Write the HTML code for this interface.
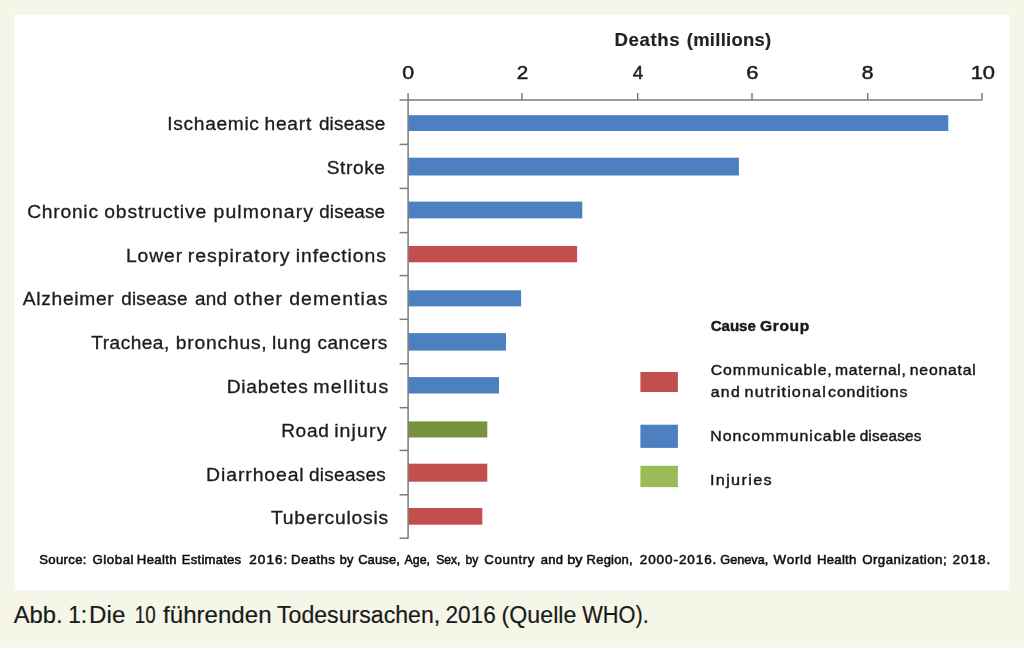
<!DOCTYPE html>
<html><head><meta charset="utf-8"><title>Abb. 1</title>
<style>
html,body{margin:0;padding:0;background:#fff;}
body{width:1024px;height:672px;overflow:hidden;font-family:"Liberation Sans",sans-serif;}
svg{display:block;}
text{font-family:"Liberation Sans",sans-serif;fill:#222;}
.lab{font-size:18.7px;fill:#1c1c1c;stroke:#1c1c1c;stroke-width:.32px;}
.tick{font-size:19.0px;fill:#1c1c1c;stroke:#1c1c1c;stroke-width:.5px;}
.ttl{font-size:18.2px;stroke:#222;}
.b{font-weight:bold;stroke-width:.15px;}
.src{font-size:12.9px;fill:#111;stroke:#111;stroke-width:.55px;}
.leg{font-size:15.2px;fill:#1a1a1a;stroke:#1a1a1a;stroke-width:.45px;}
.cap{font-size:23.2px;fill:#1a1a1a;stroke:#1a1a1a;stroke-width:.2px;}
</style></head><body>
<svg width="1024" height="672" viewBox="0 0 1024 672">
<defs><filter id="soft" x="0" y="0" width="1024" height="600" filterUnits="userSpaceOnUse"><feGaussianBlur stdDeviation="0.6"/></filter></defs>
<rect x="0" y="0" width="1024" height="647.5" fill="#f5f6e8"/>
<rect x="14.5" y="14.5" width="995" height="575.5" fill="#ffffff"/>
<g filter="url(#soft)">
<rect x="408.10" y="115.20" width="540.20" height="15.80" fill="#4d80c0"/>
<text id="t0" class="lab" transform="translate(167.37 130.40) scale(1.0255 1)" textLength="89.27" lengthAdjust="spacing">Ischaemic</text>
<text id="t1" class="lab" transform="translate(264.47 130.40) scale(1.0283 1)" textLength="45.49" lengthAdjust="spacing">heart</text>
<text id="t2" class="lab" transform="translate(318.89 130.40) scale(1.0084 1)" textLength="65.72" lengthAdjust="spacing">disease</text>
<rect x="408.10" y="157.70" width="330.80" height="17.80" fill="#4d80c0"/>
<text id="t3" class="lab" transform="translate(326.73 174.00) scale(1.0229 1)" textLength="56.98" lengthAdjust="spacing">Stroke</text>
<rect x="408.10" y="201.60" width="174.20" height="16.80" fill="#4d80c0"/>
<text id="t4" class="lab" transform="translate(27.23 218.00) scale(1.0285 1)" textLength="68.81" lengthAdjust="spacing">Chronic</text>
<text id="t5" class="lab" transform="translate(104.24 218.00) scale(1.0369 1)" textLength="98.39" lengthAdjust="spacing">obstructive</text>
<text id="t6" class="lab" transform="translate(213.49 218.00) scale(1.04 1)" textLength="95.68" lengthAdjust="spacing">pulmonary</text>
<text id="t7" class="lab" transform="translate(319.23 218.00) scale(1.0062 1)" textLength="65.38" lengthAdjust="spacing">disease</text>
<rect x="408.10" y="246.00" width="169.00" height="16.30" fill="#c3504e"/>
<text id="t8" class="lab" transform="translate(125.92 262.00) scale(1.0304 1)" textLength="54.63" lengthAdjust="spacing">Lower</text>
<text id="t9" class="lab" transform="translate(187.74 262.00) scale(1.0434 1)" textLength="97.53" lengthAdjust="spacing">respiratory</text>
<text id="t10" class="lab" transform="translate(295.73 262.00) scale(1.0409 1)" textLength="86.74" lengthAdjust="spacing">infections</text>
<rect x="408.10" y="290.30" width="113.00" height="16.10" fill="#4d80c0"/>
<text id="t11" class="lab" transform="translate(22.75 305.30) scale(1.0275 1)" textLength="88.56" lengthAdjust="spacing">Alzheimer</text>
<text id="t12" class="lab" transform="translate(121.23 305.30) scale(1.0084 1)" textLength="65.73" lengthAdjust="spacing">disease</text>
<text id="t13" class="lab" transform="translate(195.01 305.30) scale(1.0086 1)" textLength="31.83" lengthAdjust="spacing">and</text>
<text id="t14" class="lab" transform="translate(233.73 305.30) scale(1.038 1)" textLength="46.50" lengthAdjust="spacing">other</text>
<text id="t15" class="lab" transform="translate(289.24 305.30) scale(1.0398 1)" textLength="94.51" lengthAdjust="spacing">dementias</text>
<rect x="408.10" y="333.10" width="97.90" height="17.50" fill="#4d80c0"/>
<text id="t16" class="lab" transform="translate(91.24 349.40) scale(1.0198 1)" textLength="76.53" lengthAdjust="spacing">Trachea,</text>
<text id="t17" class="lab" transform="translate(175.67 349.40) scale(1.0315 1)" textLength="88.29" lengthAdjust="spacing">bronchus,</text>
<text id="t18" class="lab" transform="translate(271.94 349.40) scale(1.0308 1)" textLength="37.95" lengthAdjust="spacing">lung</text>
<text id="t19" class="lab" transform="translate(317.39 349.40) scale(1.0203 1)" textLength="68.62" lengthAdjust="spacing">cancers</text>
<rect x="408.10" y="377.10" width="90.90" height="16.40" fill="#4d80c0"/>
<text id="t20" class="lab" transform="translate(226.72 392.90) scale(1.0285 1)" textLength="78.80" lengthAdjust="spacing">Diabetes</text>
<text id="t21" class="lab" transform="translate(313.22 392.90) scale(1.0519 1)" textLength="71.34" lengthAdjust="spacing">mellitus</text>
<rect x="408.10" y="421.40" width="79.20" height="16.10" fill="#77933c"/>
<text id="t22" class="lab" transform="translate(281.17 437.30) scale(1.0192 1)" textLength="46.74" lengthAdjust="spacing">Road</text>
<text id="t23" class="lab" transform="translate(334.18 437.30) scale(1.0481 1)" textLength="49.87" lengthAdjust="spacing">injury</text>
<rect x="408.10" y="463.70" width="79.20" height="18.00" fill="#c3504e"/>
<text id="t24" class="lab" transform="translate(206.12 480.60) scale(1.0376 1)" textLength="94.03" lengthAdjust="spacing">Diarrhoeal</text>
<text id="t25" class="lab" transform="translate(309.04 480.60) scale(1.0119 1)" textLength="75.86" lengthAdjust="spacing">diseases</text>
<rect x="408.10" y="508.00" width="74.20" height="16.70" fill="#c3504e"/>
<text id="t26" class="lab" transform="translate(271.00 524.20) scale(1.0327 1)" textLength="113.54" lengthAdjust="spacing">Tuberculosis</text>
<g stroke="#7c7c7c" stroke-width="1.5" fill="none">
<path d="M399.60 100.0H982.20"/>
<path d="M408.10 100.0V538.80"/>
<path d="M408.10 93.0V100.0"/>
<path d="M522.00 93.0V100.0"/>
<path d="M637.70 93.0V100.0"/>
<path d="M752.00 93.0V100.0"/>
<path d="M867.70 93.0V100.0"/>
<path d="M981.90 93.0V100.0"/>
<path d="M399.60 144.40H408.10"/>
<path d="M399.60 188.40H408.10"/>
<path d="M399.60 232.60H408.10"/>
<path d="M399.60 275.60H408.10"/>
<path d="M399.60 319.30H408.10"/>
<path d="M399.60 363.80H408.10"/>
<path d="M399.60 407.70H408.10"/>
<path d="M399.60 450.40H408.10"/>
<path d="M399.60 494.80H408.10"/>
<path d="M399.60 538.20H408.10"/>
</g>
<text id="t27" class="tick" transform="translate(402.14 78.80) scale(1.1247 1)">0</text>
<text id="t28" class="tick" transform="translate(516.73 78.80) scale(1.0858 1)">2</text>
<text id="t29" class="tick" transform="translate(632.84 78.80) scale(0.9961 1)">4</text>
<text id="t30" class="tick" transform="translate(746.14 78.80) scale(1.1551 1)">6</text>
<text id="t31" class="tick" transform="translate(861.75 78.80) scale(1.105 1)">8</text>
<text id="t32" class="tick" transform="translate(970.64 78.80) scale(1.1544 1)">10</text>
<text id="t33" class="ttl b" transform="translate(614.46 46.30) scale(1.0211 1)" textLength="63.71" lengthAdjust="spacing">Deaths</text>
<text id="t34" class="ttl b" transform="translate(686.74 46.30) scale(1.0133 1)" textLength="83.42" lengthAdjust="spacing">(millions)</text>
<text id="t35" class="leg b" transform="translate(710.65 330.60) scale(0.9921 1)">Cause</text>
<text id="t36" class="leg b" transform="translate(759.95 330.60) scale(1.0235 1)" textLength="48.13" lengthAdjust="spacing">Group</text>
<text id="t37" class="leg" transform="translate(710.74 375.00) scale(1.0418 1)" textLength="116.17" lengthAdjust="spacing">Communicable,</text>
<text id="t38" class="leg" transform="translate(835.03 375.00) scale(1.0339 1)" textLength="68.48" lengthAdjust="spacing">maternal,</text>
<text id="t39" class="leg" transform="translate(909.82 375.00) scale(1.038 1)" textLength="63.63" lengthAdjust="spacing">neonatal</text>
<text id="t40" class="leg" transform="translate(710.73 396.80) scale(1.0417 1)" textLength="27.90" lengthAdjust="spacing">and</text>
<text id="t41" class="leg" transform="translate(744.53 396.80) scale(1.0649 1)" textLength="76.33" lengthAdjust="spacing">nutritional</text>
<text id="t42" class="leg" transform="translate(828.10 396.80) scale(1.045 1)" textLength="75.84" lengthAdjust="spacing">conditions</text>
<text id="t43" class="leg" transform="translate(710.19 441.30) scale(1.045 1)" textLength="139.49" lengthAdjust="spacing">Noncommunicable</text>
<text id="t44" class="leg" transform="translate(859.65 441.30) scale(1.0088 1)" textLength="61.22" lengthAdjust="spacing">diseases</text>
<text id="t45" class="leg" transform="translate(709.92 485.30) scale(1.0721 1)" textLength="57.64" lengthAdjust="spacing">Injuries</text>
<rect x="640.4" y="372" width="37.5" height="20" fill="#c3504e"/>
<rect x="640.4" y="424.7" width="37.5" height="23.2" fill="#4d80c0"/>
<rect x="640.4" y="465.8" width="37.5" height="21.3" fill="#9bbb59"/>
<text id="t46" class="src" transform="translate(39.24 564.00) scale(1.0186 1)" textLength="46.42" lengthAdjust="spacing">Source:</text>
<text id="t47" class="src" transform="translate(92.48 564.00) scale(1.0291 1)" textLength="39.87" lengthAdjust="spacing">Global</text>
<text id="t48" class="src" transform="translate(136.81 564.00) scale(1.0198 1)" textLength="39.03" lengthAdjust="spacing">Health</text>
<text id="t49" class="src" transform="translate(181.83 564.00) scale(1.0137 1)" textLength="58.47" lengthAdjust="spacing">Estimates</text>
<text id="t50" class="src" transform="translate(249.28 564.00) scale(1.0506 1)" textLength="36.22" lengthAdjust="spacing">2016:</text>
<text id="t51" class="src" transform="translate(291.03 564.00) scale(1.0207 1)" textLength="42.88" lengthAdjust="spacing">Deaths</text>
<text id="t52" class="src" transform="translate(339.79 564.00) scale(0.991 1)">by</text>
<text id="t53" class="src" transform="translate(358.14 564.00) scale(1.0067 1)" textLength="41.51" lengthAdjust="spacing">Cause,</text>
<text id="t54" class="src" transform="translate(404.56 564.00) scale(0.9613 1)">Age,</text>
<text id="t55" class="src" transform="translate(436.14 564.00) scale(0.9417 1)">Sex,</text>
<text id="t56" class="src" transform="translate(465.59 564.00) scale(0.9368 1)">by</text>
<text id="t57" class="src" transform="translate(484.30 564.00) scale(1.0325 1)" textLength="48.67" lengthAdjust="spacing">Country</text>
<text id="t58" class="src" transform="translate(540.83 564.00) scale(1.0105 1)" textLength="22.06" lengthAdjust="spacing">and</text>
<text id="t59" class="src" transform="translate(567.19 564.00) scale(1.1198 1)">by</text>
<text id="t60" class="src" transform="translate(586.62 564.00) scale(1.0107 1)" textLength="45.58" lengthAdjust="spacing">Region,</text>
<text id="t61" class="src" transform="translate(639.79 564.00) scale(1.0489 1)" textLength="72.96" lengthAdjust="spacing">2000-2016.</text>
<text id="t62" class="src" transform="translate(720.29 564.00) scale(0.9851 1)">Geneva,</text>
<text id="t63" class="src" transform="translate(773.55 564.00) scale(1.0369 1)" textLength="36.41" lengthAdjust="spacing">World</text>
<text id="t64" class="src" transform="translate(817.02 564.00) scale(1.0158 1)" textLength="38.68" lengthAdjust="spacing">Health</text>
<text id="t65" class="src" transform="translate(862.14 564.00) scale(1.0294 1)" textLength="82.11" lengthAdjust="spacing">Organization;</text>
<text id="t66" class="src" transform="translate(952.58 564.00) scale(1.0485 1)" textLength="36.06" lengthAdjust="spacing">2018.</text>
</g>
<text id="t67" class="cap" transform="translate(13.75 623.10) scale(1.0233 1)">Abb.</text>
<text id="t68" class="cap" transform="translate(68.16 623.10) scale(0.9774 1)">1:</text>
<text id="t69" class="cap" transform="translate(89.10 623.10) scale(1.0406 1)">Die</text>
<text id="t70" class="cap" transform="translate(134.73 623.10) scale(0.811 1)">10</text>
<text id="t71" class="cap" transform="translate(163.05 623.10) scale(1.0386 1)">führenden</text>
<text id="t72" class="cap" transform="translate(276.99 623.10) scale(0.9969 1)">Todesursachen,</text>
<text id="t73" class="cap" transform="translate(445.46 623.10) scale(0.9751 1)">2016</text>
<text id="t74" class="cap" transform="translate(501.61 623.10) scale(1.0005 1)">(Quelle</text>
<text id="t75" class="cap" transform="translate(582.30 623.10) scale(0.9392 1)">WHO).</text>
</svg>
</body></html>
